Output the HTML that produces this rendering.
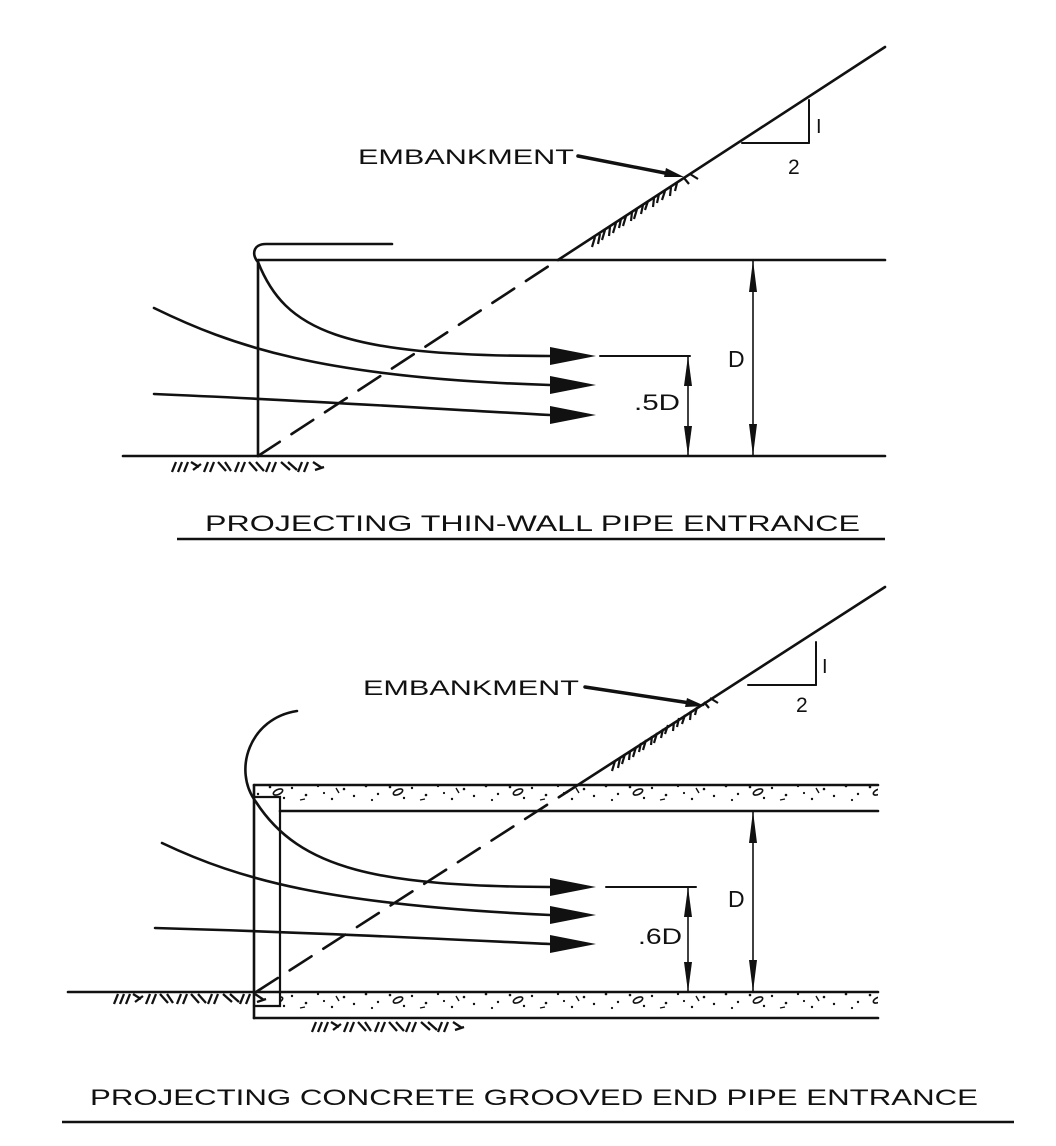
<!DOCTYPE html>
<html><head><meta charset="utf-8"><style>
html,body{margin:0;padding:0;background:#fff;}
svg{display:block;}
text{font-family:"Liberation Sans",sans-serif;fill:#111;}
</style></head><body>
<svg width="1056" height="1146" viewBox="0 0 1056 1146" xmlns="http://www.w3.org/2000/svg">
<defs>
<pattern id="conc" x="0" y="0" width="120" height="26" patternUnits="userSpaceOnUse">
<g fill="#111">
<circle cx="6" cy="6" r="1.3"/><circle cx="18" cy="14" r="1.2"/><circle cx="30" cy="7" r="1.3"/>
<circle cx="44" cy="18" r="1.2"/><circle cx="52" cy="8" r="1.2"/><circle cx="66" cy="15" r="1.3"/>
<circle cx="78" cy="6" r="1.2"/><circle cx="92" cy="19" r="1.2"/><circle cx="104" cy="9" r="1.3"/>
<circle cx="114" cy="16" r="1.2"/><circle cx="12" cy="20" r="1.1"/><circle cx="84" cy="13" r="1.1"/>
</g>
<ellipse cx="38" cy="12" rx="5" ry="2.5" fill="none" stroke="#111" stroke-width="1.6" transform="rotate(-25 38 12)"/>
<path d="M96 8 l3 5 M60 20 l5 -1" stroke="#111" stroke-width="1.4"/>
</pattern>
<g id="emb" stroke="#111" stroke-width="2.2" fill="none">
<path d="M595 237 l-3 10 M600 234 l-2 10 M605 230 l-3 10 M610 227 l-1 9 M616 223 l-3 10 M621 219 l-2 9 M626 216 l-3 10 M632 212 l-1 9 M637 209 l-3 10 M643 205 l-2 9 M648 201 l-3 9 M654 198 l-1 9 M659 194 l-2 9 M665 191 l-3 9 M671 187 l-1 9 M677 183 l-2 8 M684 178 l5 6 M690 174 l8 5"/>
</g>
<g id="gnd" stroke="#111" stroke-width="2.3" fill="none">
<path d="M172 472 l4 -10 M178 472 l4 -10 M184 472 l4 -10 M191 462 l8 5 M193 470 l8 -6 M204 472 l4 -10 M210 472 l4 -10 M218 462 l8 9 M225 462 l6 9 M235 472 l4 -10 M241 472 l4 -10 M249 462 l8 9 M256 462 l8 9 M266 472 l4 -10 M272 472 l4 -10 M281 462 l9 8 M288 462 l9 8 M298 472 l4 -10 M304 472 l4 -10 M313 462 l9 6 M315 470 l9 -3"/>
</g>
</defs>

<!-- ===== TOP DIAGRAM ===== -->
<g stroke="#111" stroke-width="2.6" fill="none" stroke-linecap="round">
<line x1="123" y1="456" x2="885" y2="456"/>
<line x1="258" y1="260" x2="885" y2="260"/>
<line x1="258" y1="260" x2="258" y2="456"/>
<path d="M258 262 C252 256 252 244 266 244 L392 244"/>
<line x1="558" y1="260" x2="885" y2="47"/>
<line x1="258" y1="456" x2="558" y2="260" stroke-dasharray="26 14"/>
<path d="M258 262 C285 330 340 356 550 356"/>
<path d="M154 308 C230 345 320 378 550 385"/>
<path d="M154 394 C300 400 420 408 550 415"/>
<line x1="809" y1="100" x2="809" y2="143" stroke-width="2"/>
<line x1="742" y1="143" x2="809" y2="143" stroke-width="2"/>
<line x1="600" y1="356" x2="690" y2="356" stroke-width="2"/>
<line x1="688" y1="356" x2="688" y2="456" stroke-width="1.6"/>
<line x1="753" y1="260" x2="753" y2="456" stroke-width="1.6"/>
<path d="M578 156 L670 174" stroke-width="3.5"/>
</g>
<g fill="#111">
<path d="M550 347 L596 356 L550 365 Z"/>
<path d="M550 376 L596 385 L550 394 Z"/>
<path d="M550 406 L596 415 L550 424 Z"/>
<path d="M688 356 l-4 30 l8 0 Z"/><path d="M688 456 l-4 -30 l8 0 Z"/>
<path d="M753 260 l-4 32 l8 0 Z"/><path d="M753 456 l-4 -32 l8 0 Z"/>
<path d="M684 177 l-18 -9 l-2 9 Z"/>
</g>
<use href="#emb"/>
<use href="#gnd"/>
<text x="358" y="164" font-size="21" textLength="216" lengthAdjust="spacingAndGlyphs">EMBANKMENT</text>
<text x="816" y="133" font-size="20">I</text>
<text x="788" y="174" font-size="21">2</text>
<text x="728" y="367" font-size="23">D</text>
<text x="634" y="410" font-size="22" textLength="46" lengthAdjust="spacingAndGlyphs">.5D</text>
<text x="205" y="531" font-size="22" textLength="655" lengthAdjust="spacingAndGlyphs">PROJECTING THIN-WALL PIPE ENTRANCE</text>
<line x1="177" y1="539" x2="885" y2="539" stroke="#111" stroke-width="2.4"/>

<!-- ===== BOTTOM DIAGRAM ===== -->
<rect x="280" y="785" width="598" height="26" fill="url(#conc)"/>
<rect x="280" y="992" width="598" height="26" fill="url(#conc)"/>
<rect x="256" y="785" width="24" height="12" fill="url(#conc)"/>
<rect x="256" y="1006" width="24" height="12" fill="url(#conc)"/>
<g stroke="#111" stroke-width="2.6" fill="none" stroke-linecap="round">
<line x1="68" y1="992" x2="878" y2="992"/>
<line x1="254" y1="785" x2="878" y2="785"/>
<line x1="280" y1="811" x2="878" y2="811"/>
<line x1="254" y1="1018" x2="878" y2="1018"/>
<line x1="254" y1="785" x2="254" y2="1018"/>
<path d="M254 797 L280 797 L280 1006 L254 1006" stroke-width="2.2"/>
<line x1="567" y1="792" x2="885" y2="587"/>
<line x1="256" y1="992" x2="567" y2="792" stroke-dasharray="26 14"/>
<path d="M297 711 C250 718 232 770 256 802 C300 870 380 886 550 887"/>
<path d="M162 843 C240 880 330 905 550 915"/>
<path d="M155 928 C300 932 420 938 550 944"/>
<line x1="816" y1="642" x2="816" y2="685" stroke-width="2"/>
<line x1="748" y1="685" x2="816" y2="685" stroke-width="2"/>
<line x1="606" y1="887" x2="696" y2="887" stroke-width="2"/>
<line x1="688" y1="887" x2="688" y2="992" stroke-width="1.6"/>
<line x1="753" y1="811" x2="753" y2="992" stroke-width="1.6"/>
<path d="M585 687 L690 703" stroke-width="3.5"/>
</g>
<g fill="#111">
<path d="M550 878 L596 887 L550 896 Z"/>
<path d="M550 906 L596 915 L550 924 Z"/>
<path d="M550 935 L596 944 L550 953 Z"/>
<path d="M688 887 l-4 30 l8 0 Z"/><path d="M688 992 l-4 -30 l8 0 Z"/>
<path d="M753 811 l-4 32 l8 0 Z"/><path d="M753 992 l-4 -32 l8 0 Z"/>
<path d="M705 706 l-18 -8 l-2 9 Z"/>
</g>
<use href="#emb" transform="translate(20 524)"/>
<use href="#gnd" transform="translate(-58 532)"/>
<use href="#gnd" transform="translate(140 560)"/>
<text x="363" y="695" font-size="21" textLength="216" lengthAdjust="spacingAndGlyphs">EMBANKMENT</text>
<text x="822" y="673" font-size="20">I</text>
<text x="796" y="712" font-size="21">2</text>
<text x="728" y="907" font-size="23">D</text>
<text x="638" y="944" font-size="22" textLength="44" lengthAdjust="spacingAndGlyphs">.6D</text>
<text x="90" y="1105" font-size="22" textLength="888" lengthAdjust="spacingAndGlyphs">PROJECTING CONCRETE GROOVED END PIPE ENTRANCE</text>
<line x1="62" y1="1122" x2="1014" y2="1122" stroke="#111" stroke-width="2.4"/>
</svg>
</body></html>
